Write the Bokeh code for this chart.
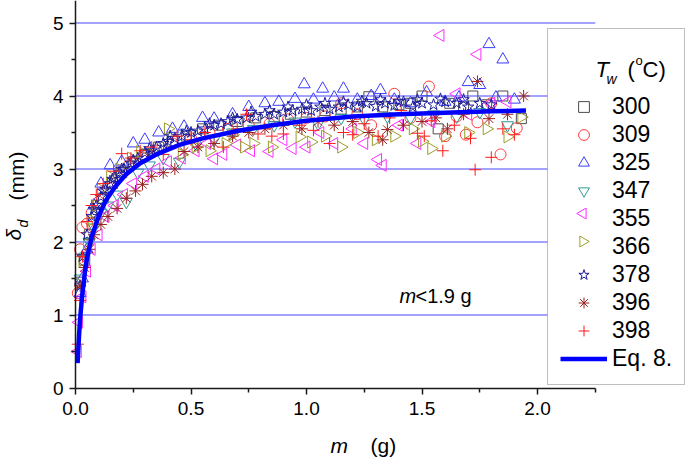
import math
from bokeh.plotting import figure
from bokeh.models import Range1d, FixedTicker, Legend, LegendItem, Label, NumeralTickFormatter
from bokeh.embed import file_html
from bokeh.resources import INLINE

FONT = "Liberation Sans"

# ---------------- data ----------------
x300 = [0.02,0.04,0.06,0.09,0.12,0.16,0.2,0.25,0.3,0.36,0.42,0.48,0.55,0.62,0.7,0.78,0.86,0.93,1.0,1.08,1.15,1.22,1.27,1.33,1.4,1.45,1.5,1.57,1.62,1.68,1.72,1.78,1.85,1.93]
y300 = [1.45,1.75,2.1,2.4,2.6,2.8,2.95,3.1,3.2,3.3,3.38,3.45,3.55,3.6,3.65,3.7,3.72,3.75,3.78,3.8,3.82,3.85,3.99,3.85,3.88,3.9,4.0,3.55,3.9,3.85,4.0,3.88,4.0,3.69]

x309 = [0.01,0.02,0.03,0.05,0.07,0.1,0.14,0.18,0.23,0.29,0.35,0.42,0.5,0.58,0.66,0.75,0.84,0.92,1.0,1.08,1.15,1.22,1.28,1.38,1.45,1.53,1.6,1.65,1.69,1.74,1.8,1.84,1.91]
y309 = [1.3,1.9,2.2,2.25,2.4,2.55,2.75,2.9,3.05,3.15,3.25,3.35,3.42,3.5,3.55,3.6,3.62,3.68,3.7,3.72,3.9,3.75,3.6,4.03,3.7,4.13,3.45,3.72,3.47,3.64,3.9,3.2,3.56]

x325 = [0.02,0.03,0.05,0.08,0.11,0.15,0.2,0.25,0.3,0.36,0.42,0.47,0.55,0.6,0.68,0.75,0.82,0.88,0.95,0.99,1.03,1.07,1.12,1.16,1.22,1.28,1.32,1.38,1.45,1.52,1.6,1.66,1.7,1.75,1.79,1.82,1.85,1.9]
y325 = [1.3,1.5,1.9,2.5,2.8,3.05,3.1,3.35,3.4,3.5,3.55,3.58,3.7,3.69,3.75,3.85,3.9,3.92,3.96,4.16,3.95,4.1,3.98,4.1,3.95,4.0,4.08,3.95,3.9,4.05,3.92,3.98,4.19,4.15,4.71,3.98,4.5,3.95]

x347 = [0.02,0.04,0.06,0.08,0.11,0.14,0.18,0.22,0.27,0.32,0.38,0.45,0.52,0.6,0.68,0.77,0.86,0.95,1.05,1.15,1.25,1.35,1.45,1.55,1.65,1.75,1.87]
y347 = [1.5,1.8,2.0,2.2,2.4,2.5,2.65,2.55,2.95,3.05,3.15,3.1,3.35,3.4,3.5,3.55,3.6,3.65,3.62,3.7,3.68,3.72,3.7,3.75,3.72,3.78,3.6]

x355 = [0.01,0.015,0.03,0.05,0.07,0.1,0.13,0.17,0.21,0.25,0.3,0.35,0.4,0.46,0.52,0.57,0.6,0.64,0.7,0.76,0.84,0.9,0.94,1.0,1.06,1.12,1.2,1.25,1.31,1.33,1.4,1.48,1.54,1.58,1.65,1.7,1.74,1.8,1.87]
y355 = [0.5,0.9,1.25,1.6,1.9,2.1,2.35,2.5,2.65,2.8,2.9,3.0,3.1,3.15,3.25,3.35,3.14,3.2,3.33,3.25,3.24,3.4,3.28,3.3,3.5,3.35,3.55,3.35,3.13,3.05,3.6,3.35,3.65,4.83,4.03,3.75,4.57,3.9,3.92]

x366 = [0.015,0.03,0.05,0.07,0.09,0.11,0.15,0.19,0.24,0.28,0.33,0.4,0.46,0.52,0.58,0.65,0.68,0.73,0.77,0.85,0.97,1.02,1.08,1.15,1.22,1.3,1.38,1.46,1.5,1.54,1.6,1.7,1.78,1.87,1.93]
y366 = [1.43,1.74,1.97,2.3,2.5,2.72,2.9,3.0,3.15,3.24,3.2,3.55,3.2,3.3,3.25,3.35,3.47,3.3,3.35,3.3,3.44,3.37,3.45,3.3,3.5,3.4,3.45,3.55,3.38,3.28,3.45,3.5,3.55,3.44,3.71]

x378 = [0.02,0.03,0.05,0.07,0.08,0.09,0.11,0.12,0.13,0.15,0.16,0.17,0.19,0.2,0.21,0.24,0.25,0.27,0.3,0.32,0.33,0.35,0.38,0.4,0.41,0.43,0.46,0.48,0.5,0.53,0.56,0.58,0.6,0.63,0.66,0.68,0.7,0.74,0.76,0.78,0.82,0.84,0.86,0.9,0.92,0.94,0.98,1.0,1.02,1.06,1.08,1.1,1.14,1.16,1.18,1.22,1.24,1.26,1.3,1.32,1.34,1.38,1.4,1.42,1.46,1.48,1.5,1.55,1.58,1.6,1.65,1.68,1.7,1.75,1.8]
y378 = [1.4,1.8,2.1,2.35,2.45,2.5,2.62,2.7,2.72,2.8,2.86,2.88,2.95,3.0,3.0,3.08,3.12,3.15,3.22,3.28,3.25,3.3,3.35,3.38,3.45,3.42,3.45,3.52,3.5,3.52,3.55,3.62,3.6,3.62,3.65,3.7,3.68,3.7,3.78,3.72,3.75,3.8,3.75,3.78,3.85,3.8,3.82,3.88,3.8,3.85,3.9,3.82,3.85,3.92,3.88,3.85,3.93,3.9,3.86,3.95,3.9,3.87,3.93,3.92,3.85,3.95,3.9,3.88,3.96,3.92,3.9,3.95,3.85,3.9,3.88]

x396 = [0.02,0.04,0.06,0.08,0.11,0.14,0.18,0.22,0.26,0.29,0.33,0.38,0.43,0.47,0.53,0.6,0.68,0.75,0.82,0.9,0.98,1.05,1.12,1.2,1.27,1.33,1.35,1.42,1.5,1.56,1.61,1.68,1.74,1.79,1.87,1.94]
y396 = [1.4,1.65,1.9,2.1,2.24,2.35,2.46,2.6,2.7,2.79,2.9,2.95,3.0,3.24,3.3,3.35,3.45,3.5,3.55,3.6,3.55,3.65,3.6,3.65,3.5,3.4,3.54,3.6,3.65,3.7,3.55,3.75,4.2,3.69,3.75,4.0]

x398 = [0.01,0.02,0.03,0.05,0.07,0.09,0.12,0.165,0.2,0.24,0.28,0.33,0.38,0.44,0.5,0.56,0.64,0.7,0.74,0.79,0.85,0.9,0.97,1.03,1.1,1.16,1.2,1.25,1.31,1.36,1.41,1.48,1.51,1.54,1.59,1.64,1.71,1.73,1.8,1.85,1.9]
y398 = [0.6,1.2,1.8,2.28,2.5,2.65,2.8,2.97,3.21,3.15,3.25,3.3,3.2,3.45,3.4,3.5,3.3,3.55,3.75,3.48,3.45,3.48,3.6,3.53,3.35,3.5,3.47,3.62,3.45,3.7,3.8,3.49,3.45,3.66,3.25,3.6,3.42,2.99,3.16,3.55,3.47]

# Eq. 8 curve
x_eq = [0.009,0.015,0.02,0.03,0.04,0.05,0.07,0.1,0.13,0.17,0.22,0.28,0.35,0.45,0.55,0.7,0.85,1.0,1.2,1.4,1.6,1.8,1.95]
y_eq = [0.34,0.70,0.95,1.30,1.57,1.78,2.07,2.35,2.56,2.75,2.93,3.08,3.20,3.33,3.42,3.52,3.60,3.66,3.72,3.75,3.77,3.79,3.80]

labels = ["300","309","325","347","355","366","378","396","398"]
xticks = [0, 0.5, 1.0, 1.5, 2.0]
xminor = [0.25, 0.75, 1.25, 1.75, 2.25]
yticks = [0, 1, 2, 3, 4, 5]
yminor = [0.5, 1.5, 2.5, 3.5, 4.5]
x_axis_end = 2.25

# ---------------- layout (pixels of the 685x458 canvas) ----------------
W, H = 685, 458
X0_PX, X_PX_PER = 75.0, 231.0      # page x of m=0, pixels per gram
Y0_PX, Y_PX_PER = 387.5, 73.0      # page y of delta=0, pixels per mm (grid on half pixels)
LEG_LEFT, LEG_TOP, LEG_BOTTOM = 547, 24, 385
PAD, GW, GH = 12, 47, 27
ITEM0_PY, PITCH = 101.0, 28.0

def px2x(px):
    return (px - X0_PX) / X_PX_PER

def py2y(py):
    return (Y0_PX - py) / Y_PX_PER

series = [
    (x300, y300, "square", "#4d4d4d", 10, 0.0),
    (x309, y309, "circle", "#ff3b3b", 11, 0.0),
    (x325, y325, "triangle", "#3a3aff", 12, 0.0),
    (x347, y347, "inverted_triangle", "#2f9a94", 12, 0.0),
    (x355, y355, "triangle", "#ff2cff", 12, math.pi / 2),
    (x366, y366, "triangle", "#9c9c2a", 12, -math.pi / 2),
    (x378, y378, "star", "#1a1a9a", 12, 0.0),
    (x396, y396, "asterisk", "#9a2020", 12, 0.0),
    (x398, y398, "cross", "#ff1a1a", 12, 0.0),
]

p = figure(width=W, height=H, output_backend="svg", toolbar_location=None, title=None,
           x_range=Range1d(px2x(0), px2x(W)), y_range=Range1d(py2y(H), py2y(0)),
           min_border=0, min_border_left=0, min_border_right=0,
           min_border_top=0, min_border_bottom=0)
p.outline_line_color = None
p.background_fill_color = "white"
p.border_fill_color = "white"
p.xgrid.visible = False
p.ygrid.visible = False

xa = p.xaxis[0]
ya = p.yaxis[0]
xa.fixed_location = 0
ya.fixed_location = 0
xa.bounds = (0, x_axis_end)
ya.bounds = (0, py2y(0))
xa.ticker = FixedTicker(ticks=xticks, minor_ticks=xminor)
xa.formatter = NumeralTickFormatter(format="0.0")
ya.ticker = FixedTicker(ticks=yticks, minor_ticks=yminor)
for ax in (xa, ya):
    ax.axis_line_color = "#1a1a1a"
    ax.axis_line_width = 1.5
    ax.major_tick_line_color = "#1a1a1a"
    ax.minor_tick_line_color = "#1a1a1a"
    ax.major_tick_line_width = 1.5
    ax.minor_tick_line_width = 1.5
    ax.major_tick_in = 0
    ax.major_tick_out = 6
    ax.minor_tick_in = 0
    ax.minor_tick_out = 4
    ax.major_label_text_font = FONT
    ax.major_label_text_font_size = "19px"
    ax.major_label_text_color = "black"
xa.major_label_standoff = 8
ya.major_label_standoff = 6

# horizontal grid lines (blue) at the y ticks; those behind the legend stop at its edge
grid_y = [t for t in yticks if t > 0]
for t in grid_y:
    x_end = x_axis_end if py2y(LEG_TOP) < t else px2x(LEG_LEFT)
    p.line([0, x_end], [t, t], line_color="#4646ff", line_width=1)

items = []
rotated_legend = []
for k, ((xs, ys, mk, col, sz, ang), lab) in enumerate(zip(series, labels)):
    r = p.scatter(xs, ys, marker=mk, size=sz, angle=ang, line_color=col,
                  fill_color=None, line_width=1)
    if ang != 0.0:
        # Bokeh draws legend glyphs unrotated: use an invisible stand-in and draw
        # the rotated marker in the legend slot separately
        dummy = p.scatter([], [], marker=mk, size=sz, line_alpha=0, fill_alpha=0)
        items.append(LegendItem(label=lab, renderers=[dummy]))
        rotated_legend.append((k, mk, col, ang))
    else:
        items.append(LegendItem(label=lab, renderers=[r]))
eq = p.line(x_eq, y_eq, line_color="#0000ff", line_width=4.5)
items.append(LegendItem(label="Eq. 8.", renderers=[eq]))

for k, mk, col, ang in rotated_legend:
    p.scatter([px2x(LEG_LEFT + PAD + GW / 2.0)], [py2y(ITEM0_PY + PITCH * k)],
              marker=mk, size=min(GW, GH) * 0.4, angle=ang,
              line_color=col, fill_color=None, line_width=1)

legend = Legend(items=items, location=(LEG_LEFT, H - LEG_BOTTOM), orientation="vertical",
                title=" ", title_text_font=FONT, title_text_font_size="22px", title_standoff=26,
                label_text_font=FONT, label_text_font_size="23px", label_text_color="black",
                glyph_width=GW, glyph_height=GH, label_height=GH, label_standoff=5,
                spacing=1, padding=PAD, margin=0,
                border_line_color="#808080", border_line_width=1,
                background_fill_color="white", background_fill_alpha=0.0)
p.add_layout(legend, "center")

def lab(text, px, py, size, italic=False, angle=0.0):
    p.add_layout(Label(x=px, y=H - py, x_units="screen", y_units="screen",
                       text=text, text_font=FONT, text_font_size=size,
                       text_font_style="italic" if italic else "normal",
                       text_color="black", text_baseline="alphabetic", text_align="left",
                       angle=angle))

# legend title  T_w (°C)
lab("T", 595, 69, "22px", italic=True)
lab("w", 606, 78, "14px", italic=True)
lab("(", 627, 69, "22px")
lab("o", 635, 60, "13px")
lab("C)", 642, 69, "22px")

# x-axis title
lab("m", 330, 445, "21px", italic=True)
lab("(g)", 370, 445, "21px")

# y-axis title (rotated)
lab("\u03b4", 13, 240, "21px", italic=True, angle=math.pi / 2)
lab("d", 22, 227, "14px", italic=True, angle=math.pi / 2)
lab("(mm)", 16, 200, "21px", angle=math.pi / 2)

# annotation
lab("m", 399, 295, "20px", italic=True)
lab("<1.9 g", 415, 295, "20px")

open("out.html", "w").write(file_html(p, INLINE))
